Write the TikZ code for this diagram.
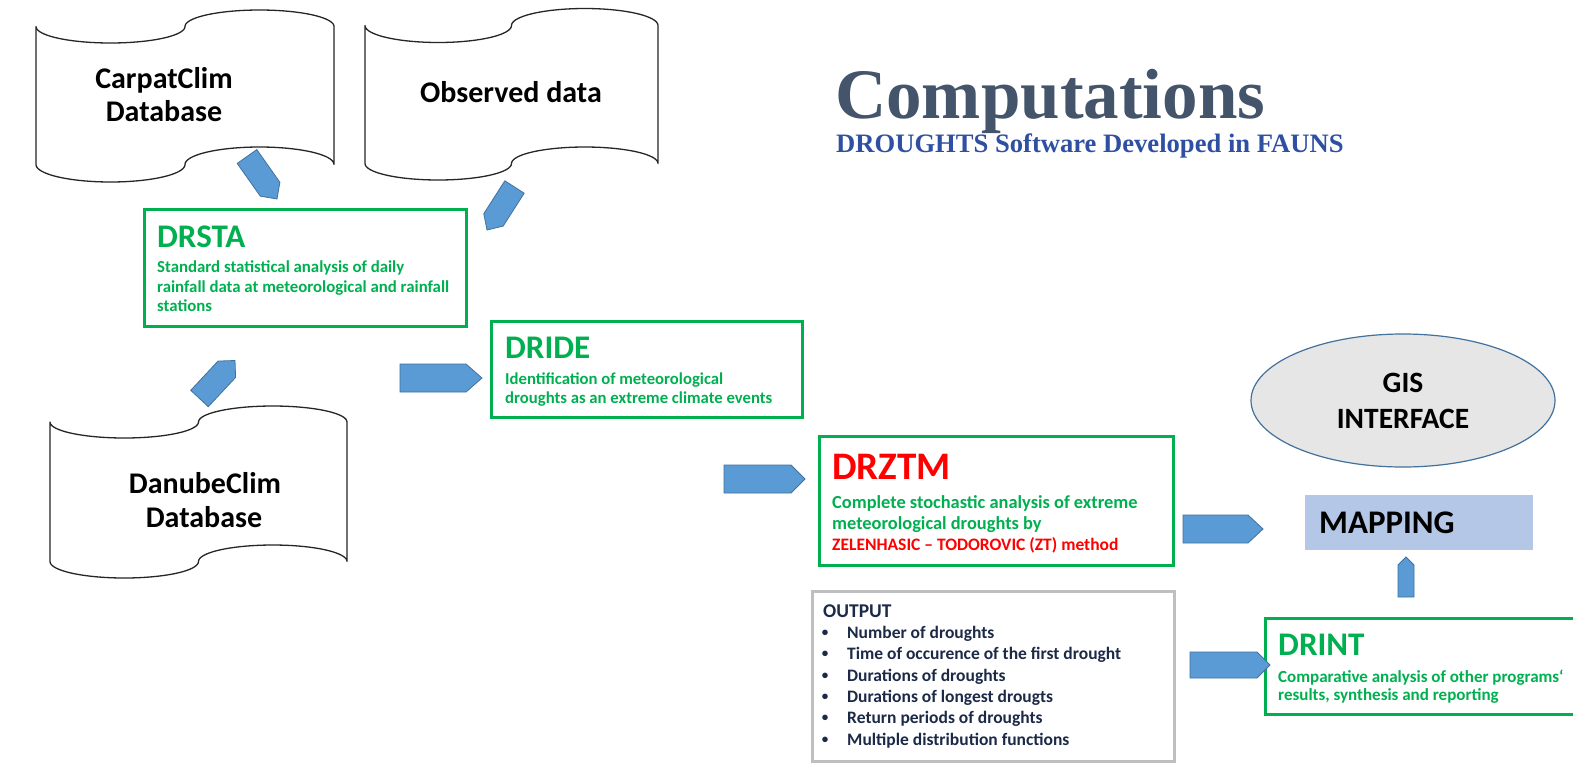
\documentclass[tikz,border=0pt]{standalone}
\usepackage{fontspec}
\setmainfont{Carlito}
\newfontfamily\titlefont{Liberation Serif}
\usetikzlibrary{shapes.geometric,calc}
\definecolor{pgreen}{HTML}{00B050}
\definecolor{pred}{HTML}{FF0000}
\definecolor{titlecol}{HTML}{44546A}
\definecolor{subcol}{HTML}{2F4FA2}
\definecolor{navy}{HTML}{1C2A48}
\definecolor{arrfill}{HTML}{5B9BD5}
\definecolor{arrdraw}{HTML}{41719C}
\definecolor{gisfill}{HTML}{E7E6E6}
\definecolor{mapfill}{HTML}{B4C7E7}
\definecolor{outgray}{HTML}{BFBFBF}
\newcommand\fsz[1]{\fontsize{#1}{#1}\selectfont}
% tape shape (half-ellipse waves): #1 left x, #2 width, #3 top mid, #4 top amp, #5 bottom mid, #6 bottom amp
\newcommand\tapeshape[6]{%
  \draw[tapeline]
    plot[domain=0:180,samples=40] ({#1+#2/4-#2/4*cos(\x)},{#3+#4*sin(\x)})
    -- plot[domain=0:180,samples=40] ({#1+3*#2/4-#2/4*cos(\x)},{#3-#4*sin(\x)})
    -- plot[domain=0:180,samples=40] ({#1+3*#2/4+#2/4*cos(\x)},{#5-#6*sin(\x)})
    -- plot[domain=0:180,samples=40] ({#1+#2/4+#2/4*cos(\x)},{#5+#6*sin(\x)})
    -- cycle;}
% block arrow: #1 tail coordinate, #2 tip coordinate, #3 half width, #4 head length
\newcommand\blockarrow[4]{%
  \coordinate (ba-s) at ($(#2)!#4!(#1)$);
  \draw[barrow] ($(#1)!#3!90:(#2)$) -- ($(ba-s)!#3!90:(#2)$) -- (#2)
    -- ($(ba-s)!#3!-90:(#2)$) -- ($(#1)!#3!-90:(#2)$) -- cycle;}
\begin{document}
\begin{tikzpicture}[x=1pt,y=-1pt,
  tapeline/.style={draw=black!85, line width=1.3pt, line join=round},
  greenbox/.style={draw=pgreen, line width=3pt, fill=white, inner sep=0pt, anchor=north west},
  graybox/.style={draw=outgray, line width=3pt, fill=white, inner sep=0pt, anchor=north west},
  barrow/.style={fill=arrfill, draw=arrdraw, line width=0.8pt, line join=miter},
  txt/.style={inner sep=0pt, anchor=base west, font=\bfseries},
  ctxt/.style={inner sep=0pt, anchor=base, font=\bfseries},
]
\clip (0,0) rectangle (1573,766);
\fill[white] (0,0) rectangle (1573,766);

% ---- tapes (databases)
\tapeshape{36}{298}{26.5}{16.5}{164.5}{17.5}
\tapeshape{365}{293}{25.5}{17}{163.5}{16.5}
\tapeshape{50}{297}{422}{16}{561.5}{16.5}
\node[ctxt, font=\bfseries\fsz{30}] (carp1) at (164,88) {CarpatClim};
\node[ctxt, font=\bfseries\fsz{30}] (carp2) at (164,121) {Database};
\node[ctxt, font=\bfseries\fsz{30}] (obs) at (511,102) {Observed data};
\node[ctxt, font=\bfseries\fsz{30}] (dan1) at (205,493) {DanubeClim};
\node[ctxt, font=\bfseries\fsz{30}] (dan2) at (204,527) {Database};

% ---- title
\node[txt, font=\titlefont\bfseries\fsz{71}, text=titlecol] (title) at (835,118) {Computations};
\node[txt, font=\titlefont\bfseries\fsz{26.6}, text=subcol] (subtitle) at (836,152) {DROUGHTS Software Developed in FAUNS};

% ---- boxes
\node[greenbox, minimum width=322pt, minimum height=117pt] (drsta) at (143,208) {};
\node[greenbox, minimum width=311pt, minimum height=96pt] (dride) at (490,320) {};
\node[greenbox, minimum width=354pt, minimum height=129pt] (drztm) at (818,435) {};
\fill[black!12] (814,593) rectangle (1176,763);
\node[graybox, minimum width=362pt, minimum height=170pt] (output) at (811,590) {};
\node[greenbox, minimum width=340pt, minimum height=96pt] (drint) at (1264,617) {};
\node[ellipse, draw=arrdraw, line width=1.2pt, fill=gisfill, inner sep=0pt,
      minimum width=304pt, minimum height=133pt] (gis) at (1403,400.5) {};
\node[fill=mapfill, inner sep=0pt, anchor=north west, minimum width=228pt, minimum height=55pt] (mapping) at (1305,495) {};

% ---- DRSTA
\node[txt, font=\bfseries\fsz{33}, text=pgreen] (t1) at (157,247) {DRSTA};
\node[txt, font=\bfseries\fsz{16.8}, text=pgreen] (t1a) at (157,272) {Standard statistical analysis of daily};
\node[txt, font=\bfseries\fsz{16.8}, text=pgreen] (t1b) at (157,292) {rainfall data at meteorological and rainfall};
\node[txt, font=\bfseries\fsz{16.8}, text=pgreen] (t1c) at (157,311) {stations};

% ---- DRIDE
\node[txt, font=\bfseries\fsz{33}, text=pgreen] (t2) at (505,358) {DRIDE};
\node[txt, font=\bfseries\fsz{16.7}, text=pgreen] (t2a) at (505,384) {Identification of meteorological};
\node[txt, font=\bfseries\fsz{16.7}, text=pgreen] (t2b) at (505,403) {droughts as an extreme climate events};

% ---- DRZTM
\node[txt, font=\bfseries\fsz{39}, text=pred] (t3) at (832,479) {DRZTM};
\node[txt, font=\bfseries\fsz{18.4}, text=pgreen] (t3a) at (832,508) {Complete stochastic analysis of extreme};
\node[txt, font=\bfseries\fsz{18.4}, text=pgreen] (t3b) at (832,529) {meteorological droughts by};
\node[txt, font=\bfseries\fsz{17.5}, text=pred] (t3c) at (832,550) {ZELENHASIC – TODOROVIC (ZT) method};

% ---- OUTPUT
\node[txt, font=\bfseries\fsz{19.5}, text=navy] (t4) at (823,617) {OUTPUT};
\foreach \i/\s in {0/Number of droughts,1/Time of occurence of the first drought,2/Durations of droughts,3/Durations of longest drougts,4/Return periods of droughts,5/Multiple distribution functions}{
  \node[ctxt, font=\bfseries\fsz{13}, text=navy] (b\i) at (825,{636.6+21.3*\i}) {•};
  \node[txt, font=\bfseries\fsz{17.5}, text=navy] (o\i) at (847,{638.6+21.3*\i}) {\s};
}

% ---- DRINT
\node[txt, font=\bfseries\fsz{33}, text=pgreen] (t5) at (1278,655) {DRINT};
\node[txt, font=\bfseries\fsz{17}, text=pgreen] (t5a) at (1278,682) {Comparative analysis of other programs‘};
\node[txt, font=\bfseries\fsz{17}, text=pgreen] (t5b) at (1278,700) {results, synthesis and reporting};

% ---- GIS, MAPPING
\node[ctxt, font=\bfseries\fsz{29.5}] (g1) at (1403,392) {GIS};
\node[ctxt, font=\bfseries\fsz{29.5}] (g2) at (1403,428) {INTERFACE};
\node[txt, font=\bfseries\fsz{33}] (m1) at (1319,533) {MAPPING};

% ---- block arrows
\coordinate (a1s) at (247,156.5);  \coordinate (a1e) at (277,199);
\coordinate (a2s) at (514.5,187);  \coordinate (a2e) at (487,230);
\coordinate (a3s) at (199.5,398.5);\coordinate (a3e) at (235,360.5);
\coordinate (a4s) at (400,378);    \coordinate (a4e) at (482,378);
\coordinate (a5s) at (724,479);    \coordinate (a5e) at (805,479);
\coordinate (a6s) at (1183,529);   \coordinate (a6e) at (1263,529);
\coordinate (a7s) at (1190,665);   \coordinate (a7e) at (1270,665);
\coordinate (a8s) at (1406,597);   \coordinate (a8e) at (1406,557);
\blockarrow{a1s}{a1e}{12pt}{12pt}
\blockarrow{a2s}{a2e}{11.5pt}{12pt}
\blockarrow{a3s}{a3e}{12pt}{12pt}
\blockarrow{a4s}{a4e}{14pt}{16pt}
\blockarrow{a5s}{a5e}{14pt}{14pt}
\blockarrow{a6s}{a6e}{14pt}{15pt}
\blockarrow{a7s}{a7e}{13pt}{13pt}
\blockarrow{a8s}{a8e}{8pt}{8pt}
\end{tikzpicture}
\end{document}
